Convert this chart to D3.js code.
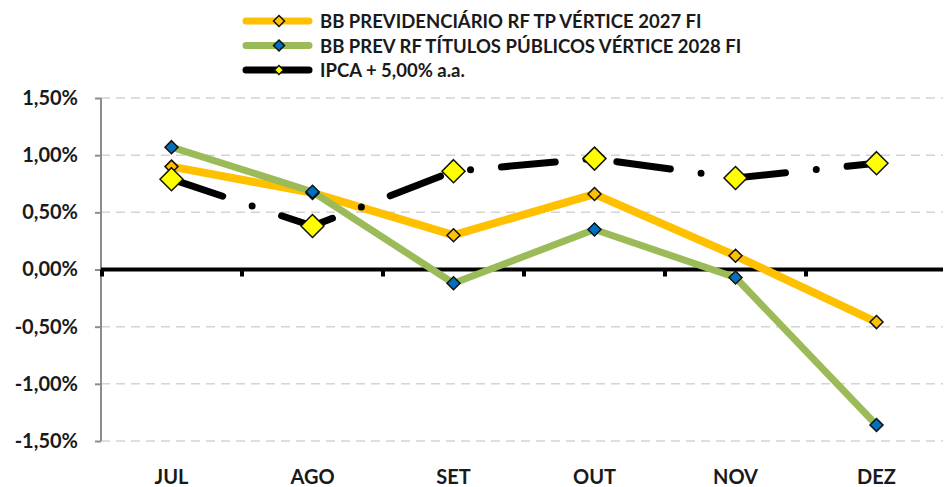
<!DOCTYPE html>
<html>
<head>
<meta charset="utf-8">
<script src="https://cdn.jsdelivr.net/npm/d3@7"></script>
<style>
  body { margin: 0; background: #fff; }
  text { font-family: Lato, "Open Sans", sans-serif; font-weight: bold; fill: #1a1a1a; }
</style>
</head>
<body>
<div id="chart"></div>
<script>
var months = ["JUL", "AGO", "SET", "OUT", "NOV", "DEZ"];
var fund2027 = [0.90, 0.67, 0.30, 0.66, 0.12, -0.46];
var fund2028 = [1.07, 0.68, -0.12, 0.35, -0.07, -1.36];
var ipca = [0.79, 0.38, 0.86, 0.97, 0.80, 0.93];
var yTicks = [1.5, 1.0, 0.5, 0.0, -0.5, -1.0, -1.5];
var seriesNames = ["BB PREVIDENCIÁRIO RF TP VÉRTICE 2027 FI", "BB PREV RF TÍTULOS PÚBLICOS VÉRTICE 2028 FI", "IPCA + 5,00% a.a."];

var width = 944, height = 487;
var plotLeft = 101, plotRight = 947, plotTop = 98, plotBottom = 441;

var svg = d3.select("#chart").append("svg")
  .attr("width", width).attr("height", height);

var x = d3.scaleBand().domain(months).range([plotLeft, plotRight]);
var y = d3.scaleLinear().domain([-1.5, 1.5]).range([plotBottom, plotTop]);

var fmt = function(v) { return v.toFixed(2).replace(".", ",") + "%"; };

// gridlines
svg.append("g").selectAll("line")
  .data(yTicks.filter(function(d) { return d !== 0; }))
  .enter().append("line")
  .attr("x1", plotLeft).attr("x2", 943)
  .attr("y1", function(d) { return y(d); }).attr("y2", function(d) { return y(d); })
  .attr("stroke", "#d4d4d4").attr("stroke-width", 1.5).attr("stroke-dasharray", "9,6");

// y axis
var yAxis = svg.append("g")
  .attr("transform", "translate(" + plotLeft + ",0)")
  .call(d3.axisLeft(y).tickValues(yTicks).tickFormat(fmt).tickSize(6).tickPadding(17));
yAxis.select(".domain").attr("stroke", "#8c8c8c").attr("stroke-width", 2).attr("d", "M0," + plotTop + "V" + plotBottom);
yAxis.selectAll(".tick line").attr("stroke", "#8c8c8c").attr("stroke-width", 2);
yAxis.selectAll(".tick text").style("font-size", "20px").attr("fill", "#1a1a1a");

// zero line with category ticks
svg.append("line")
  .attr("x1", plotLeft).attr("x2", 943).attr("y1", y(0)).attr("y2", y(0))
  .attr("stroke", "#000").attr("stroke-width", 4);
svg.append("g").selectAll("rect")
  .data(months.slice(1))
  .enter().append("rect")
  .attr("x", function(d) { return x(d) - 2; })
  .attr("y", y(0)).attr("width", 4).attr("height", 7).attr("fill", "#000");
svg.append("rect").attr("x", plotLeft - 1).attr("y", y(0)).attr("width", 4).attr("height", 7).attr("fill", "#000");

// x labels
svg.append("g").selectAll("text")
  .data(months).enter().append("text")
  .attr("x", function(d) { return x(d) + x.bandwidth() / 2; })
  .attr("y", 484)
  .attr("text-anchor", "middle")
  .style("font-size", "20px")
  .text(function(d) { return d; });

var line = d3.line()
  .x(function(d, i) { return x(months[i]) + x.bandwidth() / 2; })
  .y(function(d) { return y(d); });

var diamond = function(r) { return "M0," + (-r) + "L" + r + ",0L0," + r + "L" + (-r) + ",0Z"; };

// series lines
svg.append("path").datum(fund2027).attr("d", line)
  .attr("fill", "none").attr("stroke", "#ffc000").attr("stroke-width", 8).attr("stroke-linejoin", "round");
svg.append("path").datum(fund2028).attr("d", line)
  .attr("fill", "none").attr("stroke", "#9bbb59").attr("stroke-width", 7).attr("stroke-linejoin", "round");
svg.append("path").datum(ipca).attr("d", line)
  .attr("fill", "none").attr("stroke", "#000").attr("stroke-width", 7)
  .attr("stroke-linecap", "round").attr("stroke-dasharray", "54,31,0,31");

function markers(data, r, fill) {
  svg.append("g").selectAll("path")
    .data(data).enter().append("path")
    .attr("transform", function(d, i) { return "translate(" + (x(months[i]) + x.bandwidth() / 2) + "," + y(d) + ")"; })
    .attr("d", diamond(r))
    .attr("fill", fill).attr("stroke", "#111").attr("stroke-width", 1.5);
}
markers(fund2027, 6.5, "#ffc000");
markers(fund2028, 6.5, "#0070c0");
markers(ipca, 11.5, "#ffff00");

// legend
var legendColors = ["#ffc000", "#9bbb59", "#000"];
var markerColors = ["#ffc000", "#0070c0", "#ffff00"];
var markerSizes = [5.5, 5.5, 4.5];
var lg = svg.append("g").selectAll("g")
  .data(seriesNames).enter().append("g")
  .attr("transform", function(d, i) { return "translate(0," + (21 + i * 24.5) + ")"; });
lg.append("line")
  .attr("x1", 246).attr("x2", 309).attr("y1", 0).attr("y2", 0)
  .attr("stroke", function(d, i) { return legendColors[i]; })
  .attr("stroke-width", 7).attr("stroke-linecap", "round");
lg.append("path")
  .attr("transform", "translate(279,0)")
  .attr("d", function(d, i) { return diamond(markerSizes[i]); })
  .attr("fill", function(d, i) { return markerColors[i]; })
  .attr("stroke", "#111").attr("stroke-width", 1.5);
lg.append("text")
  .attr("x", 320).attr("y", 7)
  .style("font-size", "18.5px")
  .text(function(d) { return d; });
</script>
</body>
</html>
